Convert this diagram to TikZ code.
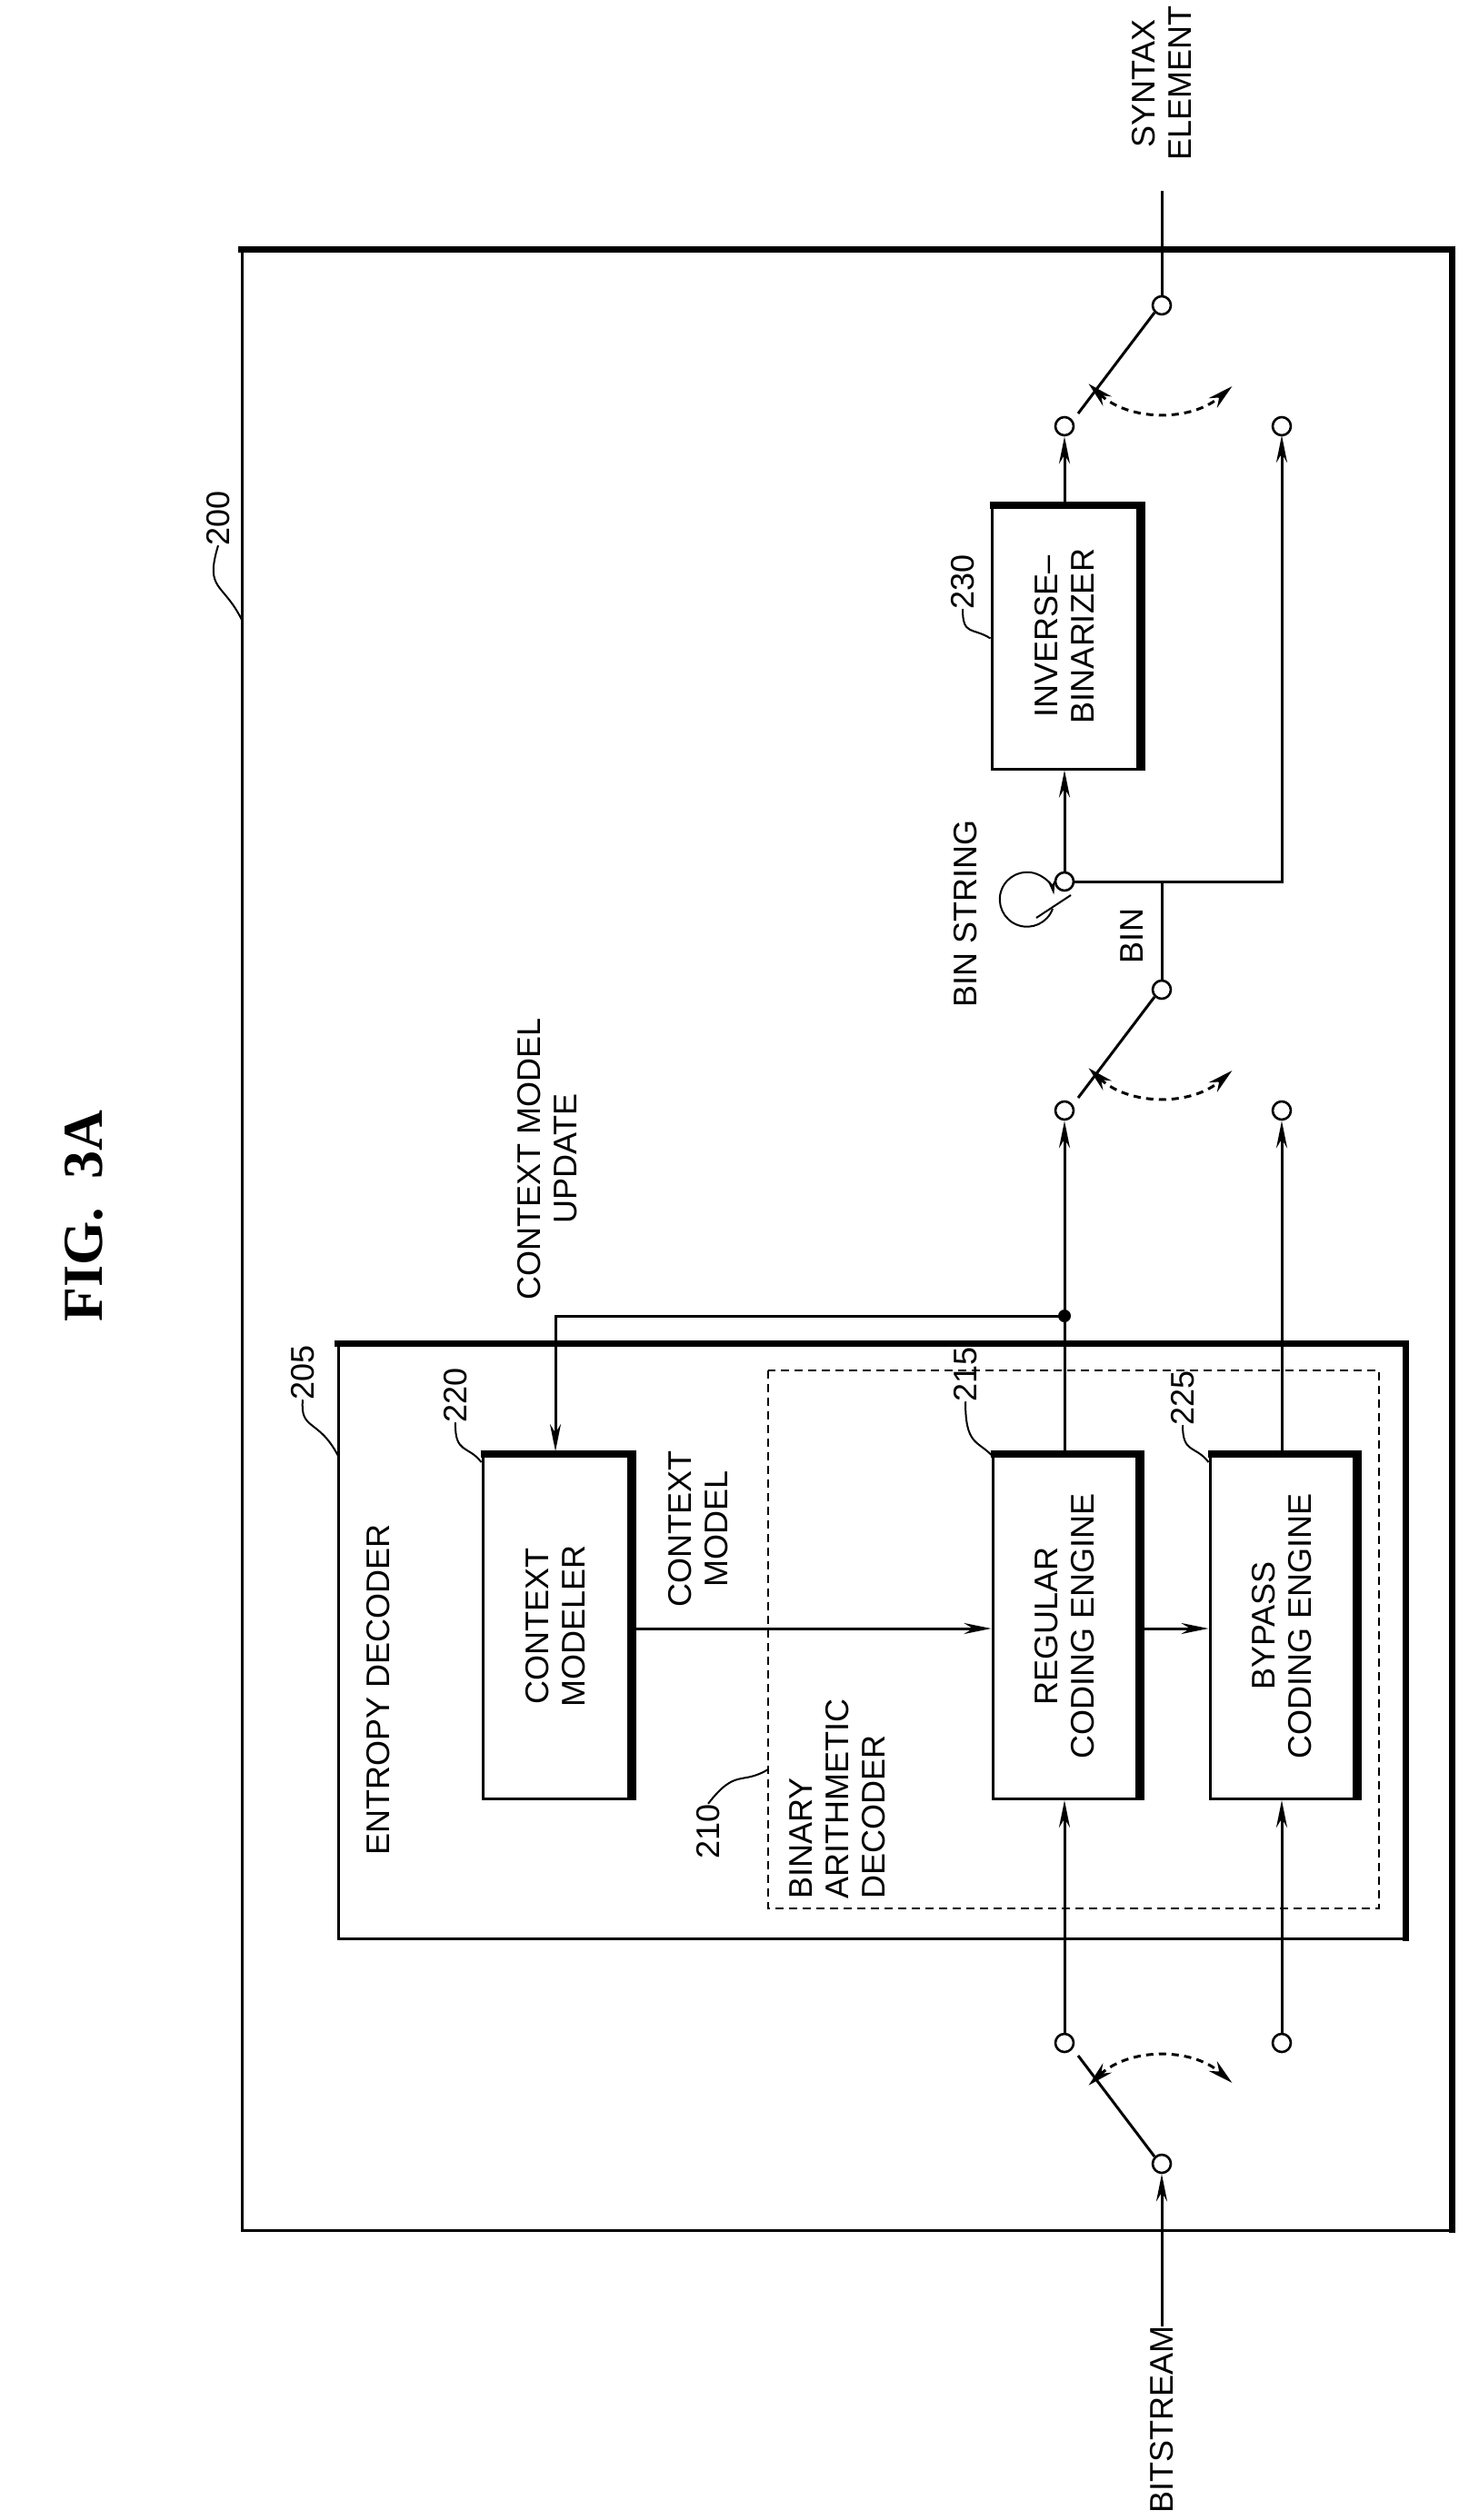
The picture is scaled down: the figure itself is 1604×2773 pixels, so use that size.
\documentclass[tikz,border=0pt]{standalone}
\usepackage{fontspec}
\setmainfont{Liberation Sans}
\newfontfamily\figfont{Liberation Serif}
\usetikzlibrary{arrows.meta,calc}
\begin{document}
\begin{tikzpicture}[x=1pt,y=-1pt,
  thin/.style={line width=3pt},
  thick/.style={line width=7pt},
  box/.style={draw,line width=3pt,minimum width=#1,inner sep=0},
  txt/.style={rotate=90,align=center,font=\fontsize{36}{40}\selectfont,inner sep=0},
  ct/.style={circle,draw,line width=2.6pt,fill=white,minimum size=20pt,inner sep=0},
  arr/.style={thin,-{Stealth[length=30pt,width=12pt]}},
  sw/.style={thin,dashed,dash pattern=on 8pt off 6pt,{Stealth[length=28pt,width=14pt]}-{Stealth[length=28pt,width=14pt]}},
  lead/.style={line width=2pt}]
\useasboundingbox (0,0) rectangle (1604,2773);
% title
\node[rotate=90,font=\figfont\bfseries\fontsize{62}{70}\selectfont] (fig) at (92,1338) {FIG.\ \ 3A};
% outer box 200
\draw[thin] (1597,2454) -- (266,2454) -- (266,274);
\draw[thick] (262,274) -- (1597,274) -- (1597,2457);
\node[txt] (n200) at (240,570) {200};
\draw[lead] (266,682) .. controls (245,640) and (225,650) .. (n200.west);
% entropy decoder 205
\draw[thin] (1546,2133) -- (372,2133) -- (372,1478);
\draw[thick] (368,1478) -- (1546,1478) -- (1546,2136);
\node[txt] (ed) at (416,1859) {ENTROPY DECODER};
\node[txt] (n205) at (333,1510) {205};
\draw[lead] (372,1602) .. controls (350,1560) and (330,1575) .. (n205.west);
% dashed 210
\draw[line width=1.6pt,dash pattern=on 9pt off 6pt] (845,1508) rectangle (1517,2100);
\node[txt,align=left,anchor=west] (bad) at (921,2090) {BINARY\\ARITHMETIC\\DECODER};
\node[txt] (n210) at (779,2015) {210};
\draw[lead] (845,1947) .. controls (815,1965) and (810,1945) .. (n210.east);
% blocks
\node[box=160pt,minimum height=381pt] (cm) at (611,1789) {};
\node[box=158pt,minimum height=381pt] (reg) at (1171,1789) {};
\node[box=158pt,minimum height=381pt] (byp) at (1410,1789) {};
\node[box=160pt,minimum height=292pt] (ib) at (1171,700) {};
\foreach \b in {cm,reg,byp,ib}{
  \draw[line width=8pt] ([xshift=-1pt,yshift=-3pt]\b.north west) -- ([xshift=3pt,yshift=-3pt]\b.north east) -- ([xshift=3pt]\b.south east);}
\node[txt] at (cm) {CONTEXT\\MODELER};
\node[txt] at (reg) {REGULAR\\CODING ENGINE};
\node[txt] at (byp) {BYPASS\\CODING ENGINE};
\node[txt] at (ib) {INVERSE–\\BINARIZER};
\node[txt] (n220) at (501,1535) {220};
\draw[lead] (cm.north west) ++(0,12) .. controls (515,1590) and (500,1600) .. (n220.west);
\node[txt] (n215) at (1062,1512) {215};
\draw[lead] (reg.north west) ++(0,4) .. controls (1075,1585) and (1062,1590) .. (n215.west);
\node[txt] (n225) at (1301,1538) {225};
\draw[lead] (byp.north west) ++(0,12) .. controls (1315,1590) and (1301,1600) .. (n225.west);
\node[txt] (n230) at (1059,640) {230};
\draw[lead] (ib.north west) ++(0,150) .. controls (1070,690) and (1059,700) .. (n230.west);
% context model arrows
\draw[arr] (cm.east |- 0,1792) -- (reg.west |- 0,1792);
\node[txt] (cmt) at (768,1682) {CONTEXT\\MODEL};
\draw[arr] (reg.east |- 0,1792) -- (byp.west |- 0,1792);
% bottom switch
\node[ct] (c1a) at (1171,2248) {};
\node[ct] (c1b) at (1410,2248) {};
\node[ct] (p1) at (1278,2381) {};
\node[txt,anchor=west] (bs) at (1278,2766) {BITSTREAM};
\draw[arr] (bs.east) -- (p1);
\draw[arr] (c1a) -- (reg.south);
\draw[arr] (c1b) -- (byp.south);
\draw[thin] (p1.north west) -- (1186,2262);
\draw[sw] ($(p1)+(-133:118)$) arc[start angle=-133,end angle=-49,radius=118];
% middle switch
\node[ct] (c2a) at (1171,1222) {};
\node[ct] (c2b) at (1410,1222) {};
\node[ct] (p2) at (1278,1089) {};
\draw[arr] (reg.north) -- (c2a);
\draw[arr] (byp.north) -- (c2b);
\node[circle,fill,inner sep=0,minimum size=14pt] (dot) at (1171,1448) {};
\draw[arr] (dot.center) -- (611,1448) -- (cm.north);
\node[txt] (cmu) at (602,1275) {CONTEXT MODEL\\UPDATE};
\draw[thin] (p2.south west) -- (1186,1208);
\draw[sw] ($(p2)+(133:118)$) arc[start angle=133,end angle=49,radius=118];
% bin string
\node[ct] (bsc) at (1171,970) {};
\draw[thin] (p2) -- (1278,970);
\node[txt] (bin) at (1245,1030) {BIN};
\draw[arr] (bsc.east) -- (1410,970) -- (1410,479);
\node[ct] (c3b) at (1410,469) {};
\draw[arr] (bsc) -- (ib.south);
\node[txt] (bstr) at (1062,1005) {BIN STRING};
\draw[line width=2pt,-{Stealth[length=16pt,width=8pt]}] (1158,1000) arc[start angle=20,end angle=350,radius=30];
\draw[line width=2pt] (1140,1010) -- (1178,985);
% top switch
\node[ct] (c3a) at (1171,469) {};
\node[ct] (p3) at (1278,336) {};
\draw[arr] (ib.north) -- (c3a);
\draw[thin] (p3.south west) -- (1186,455);
\draw[sw] ($(p3)+(133:118)$) arc[start angle=133,end angle=49,radius=118];
\node[txt,anchor=west] (se) at (1278,177) {SYNTAX\\ELEMENT};
\draw[thin] (p3) -- (1278,210);
\end{tikzpicture}
\end{document}
